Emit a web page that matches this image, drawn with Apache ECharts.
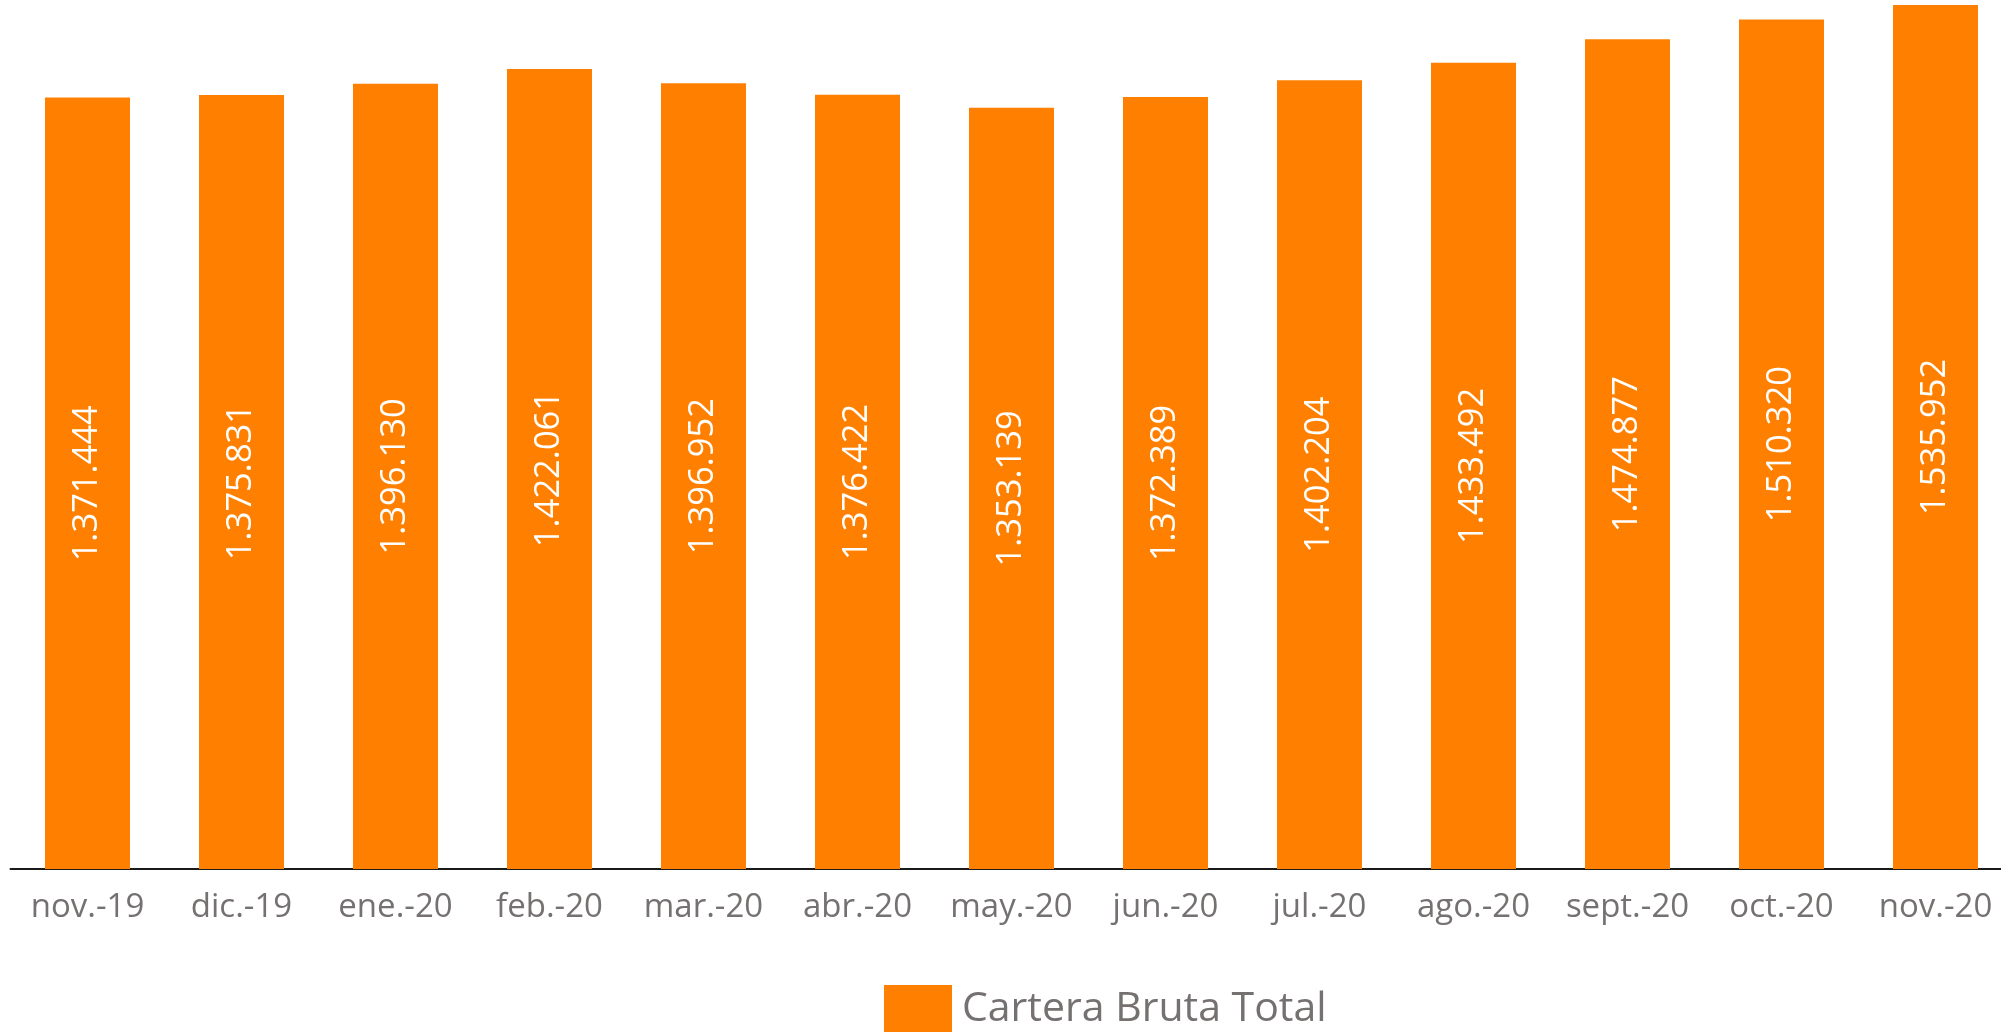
<!DOCTYPE html>
<html>
<head>
<meta charset="utf-8">
<script src="https://cdn.jsdelivr.net/npm/echarts@6/dist/echarts.min.js"></script>
<style>
	html, body { margin: 0; padding: 0; background: #fff; }
	#chart { width: 2001px; height: 1032px; }
</style>
</head>
<body>
<div id="chart"></div>
<script>
	'use strict';
	var months = ['nov.-19', 'dic.-19', 'ene.-20', 'feb.-20', 'mar.-20', 'abr.-20', 'may.-20',
		'jun.-20', 'jul.-20', 'ago.-20', 'sept.-20', 'oct.-20', 'nov.-20'];
	var carteraBruta = [1371444, 1375831, 1396130, 1422061, 1396952, 1376422, 1353139,
		1372389, 1402204, 1433492, 1474877, 1510320, 1535952];
	var seriesName = 'Cartera Bruta Total';

	// thousands separated with dots, as in the source
	function fmt(v) {
		return String(v).replace(/\B(?=(\d{3})+(?!\d))/g, '.');
	}

	var chart = echarts.init(document.getElementById('chart'));
	var option = {
		backgroundColor: '#ffffff',
		animation: false,
		grid: { left: 10.5, width: 2002, top: 5, bottom: 163, outerBoundsMode: 'none' },
		legend: {
			data: [seriesName],
			left: 884,
			top: 985,
			padding: 0,
			itemWidth: 68,
			itemHeight: 48,
			itemGap: 10,
			icon: 'rect',
			textStyle: { color: '#767171', fontSize: 41, fontFamily: 'Open Sans', padding: [0, 0, 0, 5] }
		},
		xAxis: {
			type: 'category',
			data: months,
			axisLine: { show: true, lineStyle: { color: '#1a1a1a', width: 2 } },
			axisTick: { show: false },
			axisLabel: { color: '#767171', fontSize: 33, fontFamily: 'Open Sans', margin: 22, interval: 0 }
		},
		yAxis: {
			type: 'value',
			min: 0,
			max: 'dataMax',
			show: false,
			splitLine: { show: false }
		},
		series: [{
			name: seriesName,
			type: 'bar',
			data: carteraBruta,
			barWidth: 85,
			itemStyle: { color: '#ff8000' },
			label: {
				show: true,
				position: 'inside',
				rotate: 90,
				color: '#ffffff',
				fontSize: 34.5,
				fontFamily: 'Open Sans',
				formatter: function (p) { return fmt(p.value); }
			}
		}]
	};
	chart.setOption(option);
</script>
</body>
</html>
